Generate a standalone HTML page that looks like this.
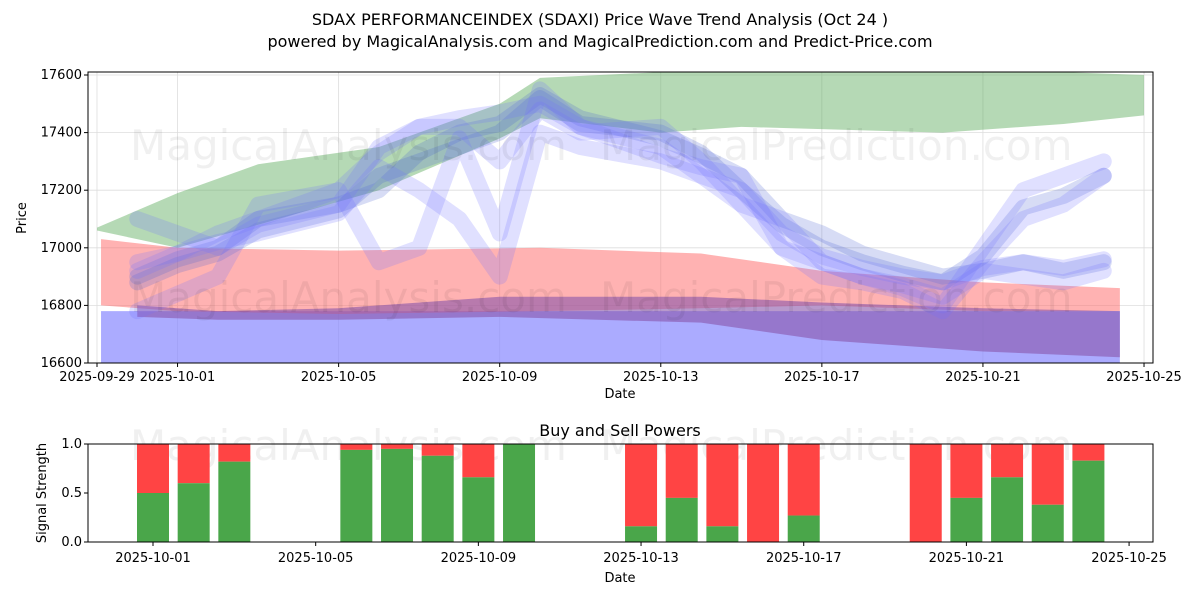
<!DOCTYPE html>
<html><head><meta charset="utf-8"><style>
body{margin:0;background:#fff;font-family:"Liberation Sans","DejaVu Sans",sans-serif}
svg text{font-family:"DejaVu Sans","Liberation Sans",sans-serif}
</style></head><body>
<svg id="c" width="1200" height="600" xmlns="http://www.w3.org/2000/svg">
<text x="600" y="25" text-anchor="middle" font-size="16">SDAX PERFORMANCEINDEX (SDAXI) Price Wave Trend Analysis (Oct 24 )</text>
<text x="600" y="47" text-anchor="middle" font-size="16">powered by MagicalAnalysis.com and MagicalPrediction.com and Predict-Price.com</text>
<defs><clipPath id="cp"><rect x="88" y="72" width="1065" height="291"/></clipPath></defs>
<g id="topg"></g><g id="botg"></g>
</svg>
<script>
// top chart data (day offsets from 2025-09-29)
const bandDays=[0,2,4,7,10,11,14,16,21,24,26];
const greenUpper=[17070,17190,17290,17350,17500,17590,17610,17610,17610,17610,17600];
const greenLower=[17060,17000,17080,17200,17380,17450,17400,17420,17400,17430,17460];
const redDays=[0.1,2,6,11,15,18,22,25.4];
const redUpper=[17030,17000,16990,17000,16980,16920,16880,16860];
const redLower=[16800,16780,16770,16780,16790,16800,16780,16780];
const purpleDays=[1,3,6,10,15,18,22,25.4];
const purpleUpper=[16800,16780,16790,16830,16830,16810,16790,16780];
const purpleLower=[16760,16750,16750,16760,16740,16680,16640,16620];
const waveDays=[1,2,3,4,6,7,8,9,10,11,12,14,15,16,17,18,19,20,21,22,23,24,25];
const waves=[
[16900,16960,17000,17100,17150,17200,17330,17400,17430,17530,17450,17380,17320,17250,17100,17050,16980,16940,16900,16920,16950,16920,16950],
[16880,16940,16980,17060,17130,17250,17300,17350,17400,17520,17430,17400,17330,17200,17080,17000,16950,16910,16880,16970,17140,17180,17250],
[16780,16840,16900,17150,17200,17330,17420,17420,17300,17480,17400,17420,17300,17150,17000,16950,16900,16860,16800,17000,17200,17250,17300],
[16920,16980,17050,17100,17200,16950,17000,17380,17050,17550,17420,17320,17280,17250,17000,16900,16880,16850,16780,16950,17100,17150,17250],
[17100,17050,17000,17080,17150,17350,17420,17450,17470,17500,17420,17350,17250,17150,17100,16950,16900,16870,16830,16920,16900,16880,16920],
[16950,16980,17020,17050,17120,17280,17200,17100,16900,17400,17350,17300,17250,17200,17050,16970,16930,16900,16880,16930,16950,16930,16960]
];
const yTicks=[16600,16800,17000,17200,17400,17600];
const xTickLabels=["2025-09-29","2025-10-01","2025-10-05","2025-10-09","2025-10-13","2025-10-17","2025-10-21","2025-10-25"];
const xTickDays=[0,2,6,10,14,18,22,26];
// bottom chart data
const barDays=[0,1,2,5,6,7,8,9,12,13,14,15,16,19,20,21,22,23];
const buyPower=[0.5,0.6,0.82,0.94,0.95,0.88,0.66,1.0,0.16,0.45,0.16,0.0,0.27,0.0,0.45,0.66,0.38,0.83];
const botTickLabels=["2025-10-01","2025-10-05","2025-10-09","2025-10-13","2025-10-17","2025-10-21","2025-10-25"];
const botTickDays=[0,4,8,12,16,20,24];
const botYTicks=[0,0.5,1];

const NS="http://www.w3.org/2000/svg";
function mk(p,t,a){const e=document.createElementNS(NS,t);for(const k in a)e.setAttribute(k,a[k]);p.appendChild(e);return e;}
const topG=document.getElementById('topg'),botG=document.getElementById('botg');
const L=88,R=1153,T=72,B=363;
const X=d=>97+d*40.27, Y=v=>363-(v-16600)*0.288;
const g=mk(topG,'g',{'clip-path':'url(#cp)'});
yTicks.forEach(v=>mk(g,'line',{x1:L,x2:R,y1:Y(v),y2:Y(v),stroke:'#ddd','stroke-width':0.8}));
xTickDays.forEach(d=>mk(g,'line',{x1:X(d),x2:X(d),y1:T,y2:B,stroke:'#ddd','stroke-width':0.8}));
function bandG(days,up,lo,fill,op,name){
  let d="M"+days.map((t,i)=>X(t)+","+Y(up[i])).join("L");
  for(let i=days.length-1;i>=0;i--)d+="L"+X(days[i])+","+Y(lo[i]);
  const e=mk(g,'path',{d:d+"Z",fill:fill,'fill-opacity':op});
  
  
}
bandG([0.1,25.4],[16780,16780],[16550,16550],'#8888ff',0.7,'blue-base-band');
bandG(bandDays,greenUpper,greenLower,'#5aaa5a',0.45,'green-band');
bandG(redDays,redUpper,redLower,'#ff6666',0.5,'red-band');
bandG(purpleDays,purpleUpper,purpleLower,'#8855aa',0.6,'purple-band');
waves.forEach((w,k)=>{
  const e=mk(g,'path',{d:"M"+waveDays.map((t,i)=>X(t)+","+Y(w[i])).join("L"),fill:'none',stroke:k<2?'#4a60d0':'#7070ff','stroke-opacity':0.22,'stroke-width':16,'stroke-linejoin':'round','stroke-linecap':'round'});
  
  
});
[[130,160,"MagicalAnalysis.com"],[600,160,"MagicalPrediction.com"],[130,312,"MagicalAnalysis.com"],[600,312,"MagicalPrediction.com"]].forEach(w=>{
  const t=mk(topG,'text',{x:w[0],y:w[1],'font-size':42,fill:'#000','fill-opacity':0.06});t.textContent=w[2];
  
  });
mk(topG,'rect',{x:L,y:T,width:R-L,height:B-T,fill:'none',stroke:'#000','stroke-width':1});
yTicks.forEach(v=>{mk(topG,'line',{x1:L-4,x2:L,y1:Y(v),y2:Y(v),stroke:'#000'});
  const t=mk(topG,'text',{x:L-6,y:Y(v)+4,'text-anchor':'end','font-size':13});t.textContent=v;
  
  });
xTickDays.forEach((d,i)=>{mk(topG,'line',{x1:X(d),x2:X(d),y1:B,y2:B+4,stroke:'#000'});
  const t=mk(topG,'text',{x:X(d),y:B+18,'text-anchor':'middle','font-size':13});t.textContent=xTickLabels[i];
  
  });
let t=mk(topG,'text',{x:620,y:398,'text-anchor':'middle','font-size':13});t.textContent='Date';


t=mk(topG,'text',{x:26,y:218,'text-anchor':'middle','font-size':13,transform:'rotate(-90 26 218)'});t.textContent='Price';



// bottom
const bL=88,bR=1153,bT=444,bB=542;
const BX=d=>153+d*40.67, BY=v=>542-v*98;
[[130,460,"MagicalAnalysis.com"],[600,460,"MagicalPrediction.com"]].forEach(w=>{
  const t=mk(botG,'text',{x:w[0],y:w[1],'font-size':42,fill:'#000','fill-opacity':0.06});t.textContent=w[2];
  
  });
barDays.forEach((d,i)=>{
  const r=mk(botG,'rect',{x:BX(d)-16,y:BY(1),width:32,height:BY(buyPower[i])-BY(1),fill:'#ff4444'});
  
  
  const gr=mk(botG,'rect',{x:BX(d)-16,y:BY(buyPower[i]),width:32,height:BY(0)-BY(buyPower[i]),fill:'#4aa64a'});
  
  
});
mk(botG,'rect',{x:bL,y:bT,width:bR-bL,height:bB-bT,fill:'none',stroke:'#000'});
botYTicks.forEach(v=>{mk(botG,'line',{x1:bL-4,x2:bL,y1:BY(v),y2:BY(v),stroke:'#000'});
  const t=mk(botG,'text',{x:bL-6,y:BY(v)+4,'text-anchor':'end','font-size':13});t.textContent=v.toFixed(1);
  
  });
botTickDays.forEach((d,i)=>{mk(botG,'line',{x1:BX(d),x2:BX(d),y1:bB,y2:bB+4,stroke:'#000'});
  const t=mk(botG,'text',{x:BX(d),y:bB+20,'text-anchor':'middle','font-size':13});t.textContent=botTickLabels[i];
  
  });
t=mk(botG,'text',{x:620,y:582,'text-anchor':'middle','font-size':13});t.textContent='Date';


t=mk(botG,'text',{x:620,y:436,'text-anchor':'middle','font-size':16});t.textContent='Buy and Sell Powers';


t=mk(botG,'text',{x:46,y:493,'text-anchor':'middle','font-size':13,transform:'rotate(-90 46 493)'});t.textContent='Signal Strength';


</script>
</body></html>
